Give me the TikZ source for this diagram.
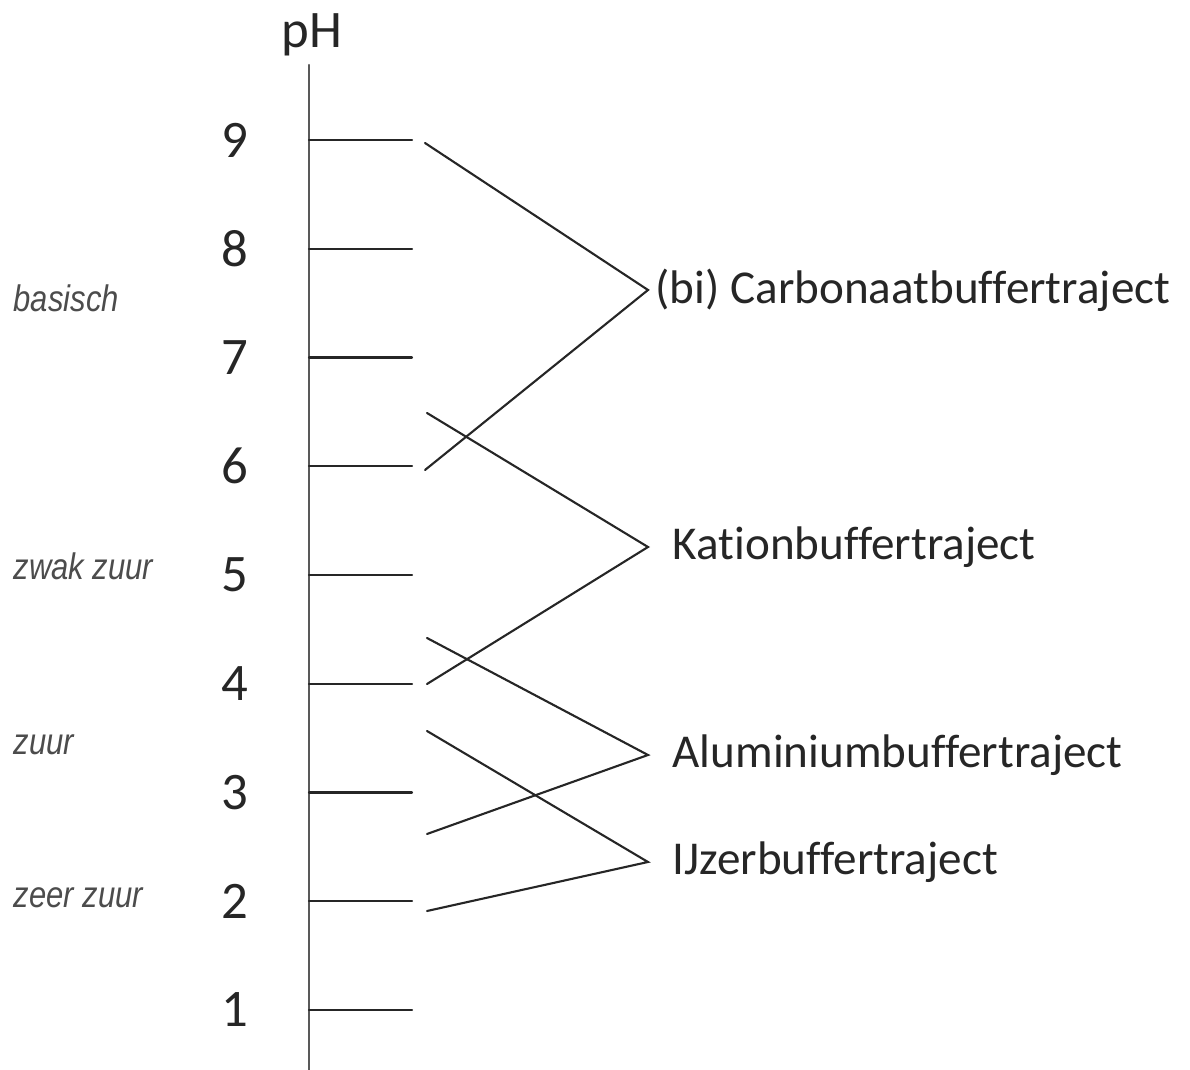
\documentclass[tikz,border=0pt]{standalone}
\usepackage{fontspec}
\setmainfont[Ligatures={NoCommon}]{Carlito}
\newfontfamily\zonefont[FakeStretch=0.84]{Liberation Sans}
\usepackage{tikz}

\tikzset{
  num/.style={font=\fontsize{15}{17}\selectfont, text=black!85},
  traject/.style={anchor=west, inner sep=0pt, font=\fontsize{13.4}{16}\selectfont, text=black!85},
  zone/.style={anchor=west, inner sep=0pt, font=\zonefont\itshape\fontsize{10.5}{13}\selectfont, text=black!70},
  lijn/.style={line width=0.6pt, black!85}
}

\begin{document}
\begin{tikzpicture}[x=0.01cm, y=-0.01cm, line cap=round]
\useasboundingbox (0,0) rectangle (1190,1070);

% pH-as
\coordinate (top) at (309,65);
\coordinate (bot) at (309,1070);
\draw [lijn, black!65] (top) -- (bot);
\node[num] (ph) at (312,35) {pH};

\foreach \v in {1,...,9} {
  \coordinate (t\v) at (309, {140+(9-\v)*108.75});
  \coordinate (e\v) at (412, {140+(9-\v)*108.75});
  \node[num] (n\v) at (235, {140+(9-\v)*108.75}) {\v};
  \draw [lijn] (t\v) -- (e\v);
}

% zones
\node[zone] (basisch) at (13,298) {basisch};
\node[zone] (zwak) at (13,566) {zwak zuur};
\node[zone] (zuur) at (13,745) {zuur};
\node[zone] (zeer) at (13,898) {zeer zuur};

% buffertrajecten
\node[traject] (carb) at (655,290) {(bi)~Carbonaatbuffertraject};
\node[traject] (kat) at (672,547) {Kationbuffertraject};
\node[traject] (alu) at (672,755) {Aluminiumbuffertraject};
\node[traject] (ijz) at (672,862) {IJzerbuffertraject};

\coordinate (c1) at (425,143);
\coordinate (c2) at (425,470);
\coordinate (k1) at (427,413);
\coordinate (k2) at (427,684);
\coordinate (a1) at (427,638);
\coordinate (a2) at (427,834);
\coordinate (i1) at (427,731);
\coordinate (i2) at (427,911);

\draw [lijn] (c1) -- (648,290) -- (c2);
\draw [lijn] (k1) -- (648,547) -- (k2);
\draw [lijn] (a1) -- (648,755) -- (a2);
\draw [lijn] (i1) -- (648,862) -- (i2);

\end{tikzpicture}
\end{document}
